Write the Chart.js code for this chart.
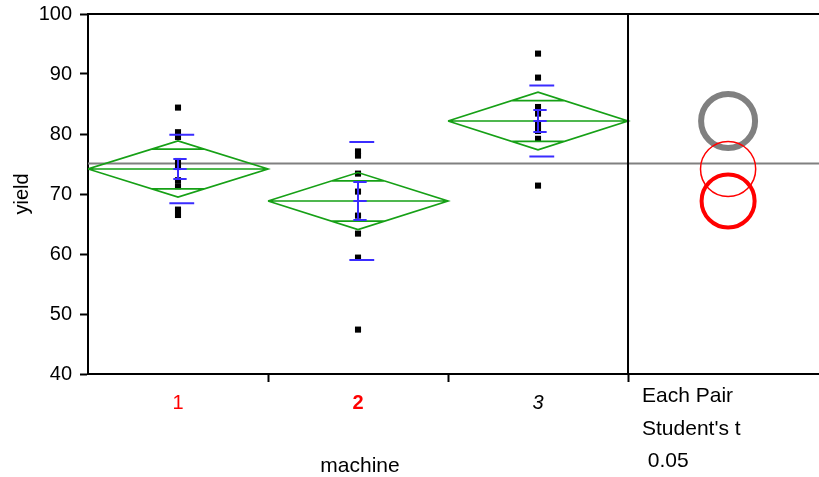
<!DOCTYPE html>
<html>
<head>
<meta charset="utf-8">
<script src="https://cdn.jsdelivr.net/npm/chart.js@4/dist/chart.umd.min.js"></script>
<style>
  html, body { margin: 0; padding: 0; background: #fff; overflow: hidden; }
</style>
</head>
<body>
<canvas id="c" width="819" height="477"></canvas>
<script>
// ---- data ----
const machines = ['1', '2', '3'];
const yieldMachine1 = [84.4, 80.3, 79.5, 75.5, 74.5, 72.3, 71.3, 67.4, 66.5];
const yieldMachine2 = [77.1, 76.4, 73.4, 70.4, 66.4, 63.4, 59.4, 47.4];
const yieldMachine3 = [93.4, 89.4, 84.5, 83.4, 81.5, 80.5, 79.2, 71.4];
const groupMeans   = [74.17, 68.83, 82.17];
const groupStdDevs = [5.72, 9.83, 5.9];
const groupStdErrs = [1.67, 3.17, 1.83];
const groupCI95    = [4.67, 4.75, 4.8];
const circleRadii  = [4.6, 4.42, 4.5];
const grandMean = 75.1;
const yTickValues = [40, 50, 60, 70, 80, 90, 100];
const testLabels = ['Each Pair', "Student's t", ' 0.05'];

// ---- layout / style ----
const FONT = "'Liberation Sans', Arial, sans-serif";
const GREEN = '#16a016';
const BLUE = '#3a2cff';
const RED = '#ff0000';
const GRAY = '#808080';
const X_MIN = 0.5, X_MAX = 4.561;   // category slots plus the comparison panel
const PANEL_X = 3.5;                // divider between the groups and the circles
const CIRCLE_X = 4.056;
const SD_L = -0.048, SD_R = 0.09;   // std dev line extent around the group centre
const CAP_L = -0.026, CAP_R = 0.048;

const groupValues = [yieldMachine1, yieldMachine2, yieldMachine3];
const gap = c => ({ x: c, y: null });

// mean diamonds, mean lines and overlap marks
const diamondData = [];
groupMeans.forEach((m, i) => {
  const c = i + 1, ci = groupCI95[i];
  const half = 0.5 * (1 - Math.SQRT1_2);
  const ov = ci * Math.SQRT1_2;
  diamondData.push(
    { x: c - 0.5, y: m }, { x: c, y: m + ci }, { x: c + 0.5, y: m }, { x: c, y: m - ci }, { x: c - 0.5, y: m }, gap(c),
    { x: c - 0.5, y: m }, { x: c + 0.5, y: m }, gap(c),
    { x: c - half, y: m + ov }, { x: c + half, y: m + ov }, gap(c),
    { x: c - half, y: m - ov }, { x: c + half, y: m - ov }, gap(c)
  );
});

// std dev lines and mean error bars
const errorData = [];
groupMeans.forEach((m, i) => {
  const c = i + 1, sd = groupStdDevs[i], se = groupStdErrs[i];
  errorData.push(
    { x: c + SD_L, y: m + sd }, { x: c + SD_R, y: m + sd }, gap(c),
    { x: c + SD_L, y: m - sd }, { x: c + SD_R, y: m - sd }, gap(c),
    { x: c, y: m - se }, { x: c, y: m + se }, gap(c),
    { x: c + CAP_L, y: m + se }, { x: c + CAP_R, y: m + se }, gap(c),
    { x: c + CAP_L, y: m }, { x: c + CAP_R, y: m }, gap(c),
    { x: c + CAP_L, y: m - se }, { x: c + CAP_R, y: m - se }, gap(c)
  );
});

const pointData = groupValues.flatMap((vals, i) => vals.map(v => ({ x: i + 1, y: v })));

const circleStyle = [
  { color: RED, width: 1.5 },
  { color: RED, width: 4 },
  { color: GRAY, width: 6 }
];
const circleSets = groupMeans.map((m, i) => ({
  data: [{ x: CIRCLE_X, y: m }],
  showLine: false,
  pointStyle: 'circle',
  pointRadius: ctx => {
    const ys = ctx.chart.scales.y;
    if (!ys) return 0;
    return Math.abs(ys.getPixelForValue(m + circleRadii[i]) - ys.getPixelForValue(m));
  },
  pointBackgroundColor: 'rgba(0,0,0,0)',
  pointBorderColor: circleStyle[i].color,
  pointBorderWidth: circleStyle[i].width,
  clip: false,
  order: [2, 1, 3][i]
}));

const frameAndText = {
  id: 'frameAndText',
  afterDatasetsDraw(chart) {
    const { ctx, chartArea: a, scales: { x } } = chart;
    const px = x.getPixelForValue(PANEL_X);
    ctx.save();
    ctx.strokeStyle = '#000';
    ctx.lineWidth = 2;
    ctx.beginPath();
    ctx.moveTo(a.left - 1, a.top);
    ctx.lineTo(a.right, a.top);
    ctx.moveTo(px, a.top);
    ctx.lineTo(px, a.bottom);
    ctx.stroke();

    ctx.fillStyle = '#000';
    ctx.font = '21px ' + FONT;
    ctx.textBaseline = 'alphabetic';
    ctx.textAlign = 'center';
    ctx.fillText('machine', x.getPixelForValue(2) + 2, 472);
    ctx.textAlign = 'left';
    testLabels.forEach((t, i) => ctx.fillText(t, px + 14, 402 + i * 32.5));
    ctx.restore();
  }
};

new Chart(document.getElementById('c'), {
  type: 'scatter',
  data: {
    datasets: [
      {
        data: [{ x: X_MIN, y: grandMean }, { x: X_MAX, y: grandMean }],
        showLine: true, borderColor: GRAY, borderWidth: 2, pointRadius: 0, order: 10
      },
      {
        data: pointData, showLine: false, pointStyle: 'rect', pointRadius: 4.3,
        pointBackgroundColor: '#000', pointBorderWidth: 0, order: 9
      },
      {
        data: diamondData, showLine: true, borderColor: GREEN, borderWidth: 1.7,
        pointRadius: 0, spanGaps: false, order: 8
      },
      {
        data: errorData, showLine: true, borderColor: BLUE, borderWidth: 2,
        pointRadius: 0, spanGaps: false, order: 7
      },
      ...circleSets
    ]
  },
  options: {
    responsive: false,
    devicePixelRatio: 1,
    animation: false,
    events: [],
    layout: { autoPadding: false, padding: { top: 14, right: 0, bottom: 0, left: 0 } },
    plugins: { legend: { display: false }, tooltip: { enabled: false } },
    scales: {
      x: {
        type: 'linear',
        min: X_MIN,
        max: X_MAX,
        afterBuildTicks: s => { s.ticks = [1, 1.5, 2, 2.5, 3, 3.5].map(v => ({ value: v })); },
        afterFit: s => { s.height = 103; s.paddingLeft = 0; s.paddingRight = 0; },
        ticks: {
          autoSkip: false,
          maxRotation: 0,
          padding: 9,
          callback: v => Number.isInteger(v) ? machines[v - 1] : '',
          color: ctx => (ctx.tick && ctx.tick.value === 3) ? '#000' : RED,
          font: ctx => {
            const v = ctx.tick ? ctx.tick.value : 0;
            return {
              family: FONT, size: 20,
              weight: v === 2 ? 'bold' : 'normal',
              style: v === 3 ? 'italic' : 'normal'
            };
          }
        },
        grid: {
          drawOnChartArea: false,
          drawTicks: true,
          tickLength: 8,
          tickWidth: 2,
          tickColor: ctx => (ctx.tick && !Number.isInteger(ctx.tick.value)) ? '#000' : 'rgba(0,0,0,0)'
        },
        border: { display: true, color: '#000', width: 2 }
      },
      y: {
        type: 'linear',
        min: 40,
        max: 100,
        afterBuildTicks: s => { s.ticks = yTickValues.map(v => ({ value: v })); },
        afterFit: s => { s.width = 88; s.paddingTop = 0; s.paddingBottom = 0; },
        ticks: { color: '#000', padding: 8, font: { family: FONT, size: 20 } },
        grid: { drawOnChartArea: false, drawTicks: true, tickLength: 8, tickWidth: 2, tickColor: '#000' },
        border: { display: true, color: '#000', width: 2 },
        title: {
          display: true, text: 'yield', color: '#000',
          font: { family: FONT, size: 20 },
          padding: { top: 10, bottom: 0 }
        }
      }
    }
  },
  plugins: [frameAndText]
});
</script>
</body>
</html>
